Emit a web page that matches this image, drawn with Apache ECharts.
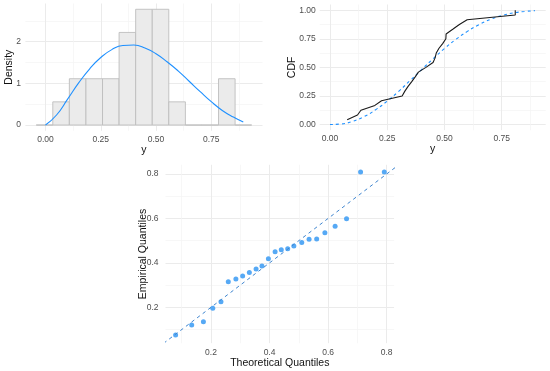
<!DOCTYPE html>
<html>
<head>
<meta charset="utf-8">
<script src="https://cdn.jsdelivr.net/npm/echarts@6/dist/echarts.min.js"></script>
<style>
html,body{margin:0;padding:0;background:#fff;}
#chart{width:550px;height:371px;}
</style>
</head>
<body>
<div id="chart"></div>
<script>
// ---- data ----
// histogram bins (edges) and density heights
var binEdges = [-0.042, 0.033, 0.108, 0.183, 0.258, 0.333, 0.408, 0.483, 0.558, 0.633, 0.708, 0.783, 0.858, 0.933];
var binDensity = [0, 0.556, 1.111, 1.111, 1.111, 2.222, 2.778, 2.778, 0.556, 0, 0, 1.111, 0];
// fitted density curve
var curveX = [0, 0.05, 0.10, 0.15, 0.20, 0.25, 0.30, 0.35, 0.40, 0.45, 0.50, 0.55, 0.60, 0.65, 0.70, 0.75, 0.80, 0.85, 0.895];
var curveDensity = [0, 0.24, 0.62, 1.01, 1.35, 1.62, 1.81, 1.91, 1.92, 1.85, 1.71, 1.52, 1.30, 1.05, 0.80, 0.56, 0.35, 0.19, 0.07];
// fitted CDF curve
var curveCDF = [0, 0.005, 0.028, 0.070, 0.130, 0.205, 0.290, 0.385, 0.480, 0.575, 0.665, 0.745, 0.815, 0.873, 0.920, 0.953, 0.976, 0.989, 0.996];
// sorted sample (empirical quantiles) and empirical CDF levels
var empirical = [0.075, 0.120, 0.135, 0.196, 0.225, 0.315, 0.327, 0.341, 0.357, 0.372, 0.386, 0.419, 0.450, 0.459, 0.464, 0.476, 0.492, 0.506, 0.507, 0.536, 0.565, 0.599, 0.809, 0.809];
var ecdfLevel = [0.042, 0.083, 0.125, 0.167, 0.208, 0.250, 0.292, 0.333, 0.375, 0.417, 0.458, 0.500, 0.542, 0.583, 0.625, 0.667, 0.708, 0.750, 0.792, 0.833, 0.875, 0.917, 0.958, 1.000];
// theoretical quantiles
var theoretical = [0.079, 0.134, 0.174, 0.206, 0.234, 0.259, 0.285, 0.308, 0.331, 0.354, 0.374, 0.396, 0.419, 0.440, 0.462, 0.483, 0.510, 0.535, 0.561, 0.589, 0.624, 0.663, 0.711, 0.792];
// reference line y = x
var refLine = [0, 1];
// tick labels
var histXTicks = [0, 0.25, 0.5, 0.75];
var histXMinor = [0.125, 0.375, 0.625, 0.875];
var histYTicks = [0, 1, 2];
var histYMinor = [0.5, 1.5, 2.5];
var cdfXTicks = [0, 0.25, 0.5, 0.75];
var cdfXMinor = [0.125, 0.375, 0.625, 0.875];
var cdfYTicks = [0, 0.25, 0.5, 0.75, 1];
var cdfYMinor = [0.125, 0.375, 0.625, 0.875];
var qqTicks = [0.2, 0.4, 0.6, 0.8];
var qqMinor = [0.1, 0.3, 0.5, 0.7];

// ---- build options ----
var FONT = 'Liberation Sans, Arial, sans-serif';
var TICK_COLOR = '#4d4d4d';
var MAJOR = '#ebebeb', MINOR = '#f4f4f4';

function majorAxis(gridIndex, min, max, ticks, fmt, isY, margin, name, nameGap) {
  var a = {
    type: 'value', gridIndex: gridIndex, min: min, max: max,
    axisLine: {show: false},
    axisTick: {show: false, customValues: ticks},
    axisLabel: {customValues: ticks, formatter: fmt, fontSize: 8.5, color: TICK_COLOR, fontFamily: FONT, margin: margin},
    splitLine: {show: true, lineStyle: {color: MAJOR, width: 1}},
    name: name, nameLocation: 'middle', nameGap: nameGap,
    nameTextStyle: {fontSize: 10.5, color: '#111', fontFamily: FONT}
  };
  if (isY) { a.nameRotate = 90; a.nameMoveOverlap = false; }
  return a;
}
function minorAxis(gridIndex, min, max, ticks) {
  return {
    type: 'value', gridIndex: gridIndex, min: min, max: max,
    axisLine: {show: false},
    axisTick: {show: false, customValues: ticks},
    axisLabel: {show: false},
    splitLine: {show: true, lineStyle: {color: MINOR, width: 0.7}}
  };
}

var histData = [];
for (var i = 0; i < binDensity.length; i++) histData.push([binEdges[i], binEdges[i + 1], binDensity[i]]);
var curveData = curveX.map(function (x, i) { return [x, curveDensity[i]]; });
var cdfData = curveX.map(function (x, i) { return [x, curveCDF[i]]; });
var ecdfData = empirical.map(function (x, i) { return [x, ecdfLevel[i]]; });
var qqData = theoretical.map(function (x, i) { return [x, empirical[i]]; });
var refData = refLine.map(function (v) { return [v, v]; });

var f2 = function (v) { return v.toFixed(2); };
var f1 = function (v) { return v.toFixed(1); };
var f0 = function (v) { return v.toFixed(0); };

var option = {
  animation: false,
  backgroundColor: '#fff',
  grid: [
    {left: 25.4, top: 3.5, width: 237.1, height: 127.3},
    {left: 319.7, top: 4.5, width: 226, height: 125.7},
    {left: 165.5, top: 164.8, width: 228.6, height: 178.4}
  ],
  xAxis: [
    majorAxis(0, -0.091, 0.982, histXTicks, f2, false, 4, 'y', 13),
    minorAxis(0, -0.091, 0.982, histXMinor),
    majorAxis(1, -0.045, 0.942, cdfXTicks, f2, false, 4, 'y', 13),
    minorAxis(1, -0.045, 0.942, cdfXMinor),
    majorAxis(2, 0.0445, 0.8255, qqTicks, f1, false, 5, 'Theoretical Quantiles', 13.5),
    minorAxis(2, 0.0445, 0.8255, qqMinor)
  ],
  yAxis: [
    majorAxis(0, -0.139, 2.917, histYTicks, f0, true, 4.4, 'Density', 11),
    minorAxis(0, -0.139, 2.917, histYMinor),
    majorAxis(1, -0.05, 1.05, cdfYTicks, f2, true, 4, 'CDF', 22),
    minorAxis(1, -0.05, 1.05, cdfYMinor),
    majorAxis(2, 0.0385, 0.8415, qqTicks, f1, true, 7, 'Empirical Quantiles', 16.5),
    minorAxis(2, 0.0385, 0.8415, qqMinor)
  ],
  series: [
    {
      type: 'custom', xAxisIndex: 0, yAxisIndex: 0, data: histData,
      encode: {x: [0, 1], y: 2},
      renderItem: function (params, api) {
        var p0 = api.coord([api.value(0), 0]);
        var p1 = api.coord([api.value(1), api.value(2)]);
        return {
          type: 'rect',
          shape: {x: p0[0], y: p1[1], width: p1[0] - p0[0], height: p0[1] - p1[1]},
          style: {fill: '#ebebeb', stroke: '#bdbdbd', lineWidth: 0.9}
        };
      }
    },
    {
      type: 'line', xAxisIndex: 0, yAxisIndex: 0, data: curveData, smooth: true,
      showSymbol: false, lineStyle: {color: '#1e90ff', width: 1.1}
    },
    {
      type: 'line', xAxisIndex: 2, yAxisIndex: 2, data: cdfData, smooth: true,
      showSymbol: false, lineStyle: {color: '#1e90ff', width: 1.1, type: [3, 3]}
    },
    {
      type: 'line', xAxisIndex: 2, yAxisIndex: 2, data: ecdfData,
      showSymbol: false, lineStyle: {color: '#1a1a1a', width: 1.1}
    },
    {
      type: 'line', xAxisIndex: 4, yAxisIndex: 4, data: refData, clip: true,
      showSymbol: false, lineStyle: {color: '#3f85cf', width: 1, type: [3.5, 3.5]}
    },
    {
      type: 'scatter', xAxisIndex: 4, yAxisIndex: 4, data: qqData,
      symbolSize: 5, itemStyle: {color: '#56a9f5', opacity: 1}
    }
  ]
};

var chart = echarts.init(document.getElementById('chart'), null, {renderer: 'canvas'});
chart.setOption(option);
</script>
</body>
</html>
